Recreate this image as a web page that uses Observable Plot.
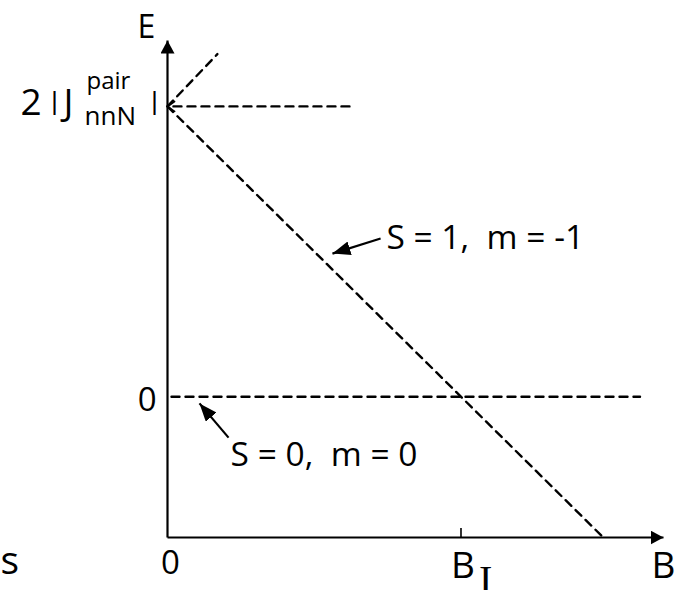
<!DOCTYPE html>
<html><head><meta charset="utf-8">
<script src="https://cdn.jsdelivr.net/npm/d3@7"></script>
<script src="https://cdn.jsdelivr.net/npm/@observablehq/plot@0.6"></script>
<style>
html,body{margin:0;padding:0;background:#fff;}
#chart svg{display:block;}
</style>
</head><body><div id="chart"></div>
<script>
// Axis extents (B in units of B_I, E in units of 2|J^pair_nnN|)
const B_range = [0, 1.69];
const E_range = [-0.485, 1.227];
const B_I = 1;
const E_pair = 1; // 2|J^pair_nnN|

// Level lines
const lineS1 = [{B: 0, E: 1}, {B: 1.485, E: -0.485}]; // S = 1, m = -1
const lineUp = [{B: 0, E: 1}, {B: 0.17, E: 1.18}];
const linePair = [{B: 0.62, E: 1}, {B: 0, E: 1}];
const lineS0 = [{B: 0, E: 0}, {B: 1.61, E: 0}];     // S = 0, m = 0

// Annotations
const annLabels = ["S = 1,  m = -1", "S = 0,  m = 0"];
const annTail = [{B: 0.726, E: 0.545}, {B: 0.208, E: -0.141}];
const annTip = [{B: 0.562, E: 0.493}, {B: 0.109, E: -0.023}];
const annLabelPos = [{B: 0.746, E: 0.5105}, {B: 0.215, E: -0.240}];

// Tick labels
const xTickLabels = ["0", "B"];
const xSubLabel = "I";
const yZeroLabel = "0";
const axisNames = {x: "B", y: "E"};
const stray = "s";

function tri(len, wid) {
  return (color) => d3.create("svg:marker")
    .attr("viewBox", `${-len} ${-wid / 2} ${len} ${wid}`)
    .attr("markerWidth", len).attr("markerHeight", wid)
    .attr("markerUnits", "userSpaceOnUse")
    .attr("orient", "auto")
    .attr("stroke", "none").attr("stroke-dasharray", "none")
    .attr("fill", color)
    .call(m => m.append("path").attr("d", `M0,0L${-len},${-wid / 2}L${-len},${wid / 2}Z`))
    .node();
}
function chevron(color) {
  return d3.create("svg:marker")
    .attr("viewBox", "-10 -6 12 12")
    .attr("markerWidth", 12).attr("markerHeight", 12)
    .attr("markerUnits", "userSpaceOnUse")
    .attr("orient", "auto")
    .attr("fill", "none").attr("stroke", color).attr("stroke-width", 1.8)
    .attr("stroke-dasharray", "none")
    .call(m => m.append("path").attr("d", "M-7,-5L0,0L-7,5"))
    .node();
}

const FONT = "Open Sans";
const T = (t, B, E, o) => Plot.text([t], {x: B, y: E, text: d => d, lineAnchor: "bottom",
  fill: "black", fontFamily: FONT, ...o});

const dash = {stroke: "black", strokeWidth: 2.4, strokeDasharray: "8,6"};
const axes = [
  {x1: 0, y1: E_range[0], x2: 0, y2: E_range[1]},
  {x1: 0, y1: E_range[0], x2: B_range[1], y2: E_range[0]}
];

const chart = Plot.plot({
  width: 675, height: 590,
  marginLeft: 167, marginRight: 12, marginTop: 40, marginBottom: 53,
  x: {domain: B_range, axis: null},
  y: {domain: E_range, axis: null},
  style: {fontFamily: FONT, background: "white"},
  marks: [
    Plot.line(lineS1, {x: "B", y: "E", ...dash}),
    Plot.line(lineUp, {x: "B", y: "E", ...dash}),
    Plot.line(lineS0, {x: "B", y: "E", ...dash, strokeDashoffset: 10}),
    Plot.line(linePair, {x: "B", y: "E", ...dash, markerEnd: chevron}),
    Plot.link(axes, {x1: "x1", y1: "y1", x2: "x2", y2: "y2", stroke: "black", strokeWidth: 2.2, markerEnd: tri(13, 14)}),
    Plot.ruleX([B_I], {x: d => d, y1: E_range[0], y2: E_range[0], insetBottom: 9, stroke: "black", strokeWidth: 1.6}),
    Plot.link(annLabels.map((l, i) => ({l, t: annTail[i], h: annTip[i]})),
      {x1: d => d.t.B, y1: d => d.t.E, x2: d => d.h.B, y2: d => d.h.E, stroke: "black", strokeWidth: 2.2, markerEnd: tri(18, 14)}),
    Plot.text(annLabels.map((l, i) => ({l, p: annLabelPos[i]})),
      {x: d => d.p.B, y: d => d.p.E, text: "l", textAnchor: "start", lineAnchor: "bottom", fontSize: 33.5, fill: "black", fontFamily: FONT}),
    // axis names
    T(axisNames.y, 0, E_range[1], {fontSize: 32, textAnchor: "middle", dx: -21, dy: -3}),
    T(axisNames.x, B_range[1], E_range[0], {fontSize: 37, textAnchor: "middle", dx: 0, dy: 40}),
    // x tick labels
    T(xTickLabels[0], 0, E_range[0], {fontSize: 33, textAnchor: "middle", dx: 3, dy: 36}),
    T(xTickLabels[1], B_I, E_range[0], {fontSize: 37, textAnchor: "middle", dx: 2, dy: 40}),
    T(xSubLabel, B_I, E_range[0], {fontSize: 40, textAnchor: "start", dx: 18, dy: 55, fontFamily: "Liberation Serif"}),
    T(stray, 0, E_range[0], {fontSize: 39, textAnchor: "start", dx: -167, dy: 36}),
    // y tick labels
    T(yZeroLabel, 0, 0, {fontSize: 33, textAnchor: "end", dx: -11, dy: 14}),
    T("2", 0, E_pair, {fontSize: 37, textAnchor: "start", dx: -147, dy: 9}),
    T("|", 0, E_pair, {fontSize: 25, textAnchor: "middle", dx: -113, dy: 4, fontFamily: "Liberation Sans"}),
    T("J", 0, E_pair, {fontSize: 37, textAnchor: "start", dx: -104, dy: 9}),
    T("pair", 0, E_pair, {fontSize: 24, textAnchor: "start", dx: -81, dy: -17}),
    T("nnN", 0, E_pair, {fontSize: 26, textAnchor: "start", dx: -83, dy: 19}),
    T("|", 0, E_pair, {fontSize: 25, textAnchor: "middle", dx: -13, dy: 4, fontFamily: "Liberation Sans"})
  ]
});
document.getElementById("chart").append(chart);
</script>
</body></html>
